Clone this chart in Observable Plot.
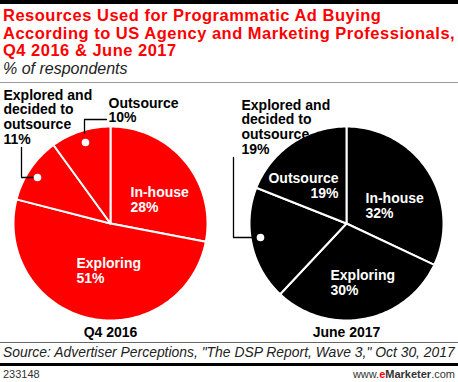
<!DOCTYPE html>
<html>
<head>
<meta charset="utf-8">
<script src="https://cdn.jsdelivr.net/npm/d3@7"></script>
<script src="https://cdn.jsdelivr.net/npm/@observablehq/plot@0.6"></script>
<style>
  html, body { margin: 0; padding: 0; background: #fff; }
  #wrap { position: relative; width: 458px; height: 382px; overflow: hidden; font-family: "Liberation Sans", Arial, sans-serif; }
  .abs { position: absolute; white-space: nowrap; }
  #topbar { left: 0; top: 0; width: 458px; height: 4px; background: #000; }
  .tl { left: 3px; color: #ff0000; font-weight: bold; font-size: 16.5px; line-height: 17px; letter-spacing: 0.5px; }
  #subtitle { left: 3px; top: 60px; font-style: italic; font-size: 16px; color: #222; }
  #rule1 { left: 0; top: 82px; width: 458px; height: 1px; background: #999; }
  #chart { left: 0; top: 84px; }
  #rule2 { left: 0; top: 342px; width: 458px; height: 1px; background: #666; }
  #source { left: 3px; top: 344px; font-style: italic; font-size: 13.9px; color: #222; }
  #rule3 { left: 0; top: 363px; width: 458px; height: 3px; background: #000; }
  #id { left: 3px; top: 368px; font-size: 11px; color: #333; }
  #brand { right: 3px; top: 368px; font-size: 11px; color: #333; }
  #brand b.e { color: #ff0000; }
</style>
</head>
<body>
<div id="wrap">
  <div class="abs" id="topbar"></div>
  <div class="abs tl" style="top:7px">Resources Used for Programmatic Ad Buying</div>
  <div class="abs tl" style="top:24.5px">According to US Agency and Marketing Professionals,</div>
  <div class="abs tl" style="top:42px">Q4 2016 &amp; June 2017</div>
  <div class="abs" id="subtitle">% of respondents</div>
  <div class="abs" id="rule1"></div>
  <div class="abs" id="chart"></div>
  <div class="abs" id="rule2"></div>
  <div class="abs" id="source">Source: Advertiser Perceptions, "The DSP Report, Wave 3," Oct 30, 2017</div>
  <div class="abs" id="rule3"></div>
  <div class="abs" id="id">233148</div>
  <div class="abs" id="brand">www.<b class="e">e</b><b>Marketer</b>.com</div>
</div>
<script>
// ---- data ----
const periods = ["Q4 2016", "June 2017"];
const categories = ["In-house", "Exploring", "Explored and decided to outsource", "Outsource"];
const q4_2016 = [28, 51, 11, 10];
const june_2017 = [32, 30, 19, 19];
const series = [q4_2016, june_2017];
const pieColors = ["#ff0000", "#000000"];

// ---- layout (pixels) ----
const W = 458, H = 258;
const R = 97;                 // pie radius px
const CX0 = 110, CY = 139;    // first pie center in svg px
const GAP = 236;              // distance between pie centers px
const gapU = GAP / R;         // in radius units

// build slice polygons from values
const slices = [];
series.forEach((vals, p) => {
  const total = d3.sum(vals);
  let acc = 0;
  vals.forEach((v, i) => {
    const a0 = acc / total * 2 * Math.PI;
    acc += v;
    const a1 = acc / total * 2 * Math.PI;
    const key = periods[p] + "|" + categories[i];
    slices.push({key, period: periods[p], x: p * gapU, y: 0});
    const n = Math.max(2, Math.ceil((a1 - a0) / (Math.PI / 180)));
    for (let k = 0; k <= n; k++) {
      const a = a0 + (a1 - a0) * k / n;
      slices.push({key, period: periods[p], x: p * gapU + Math.sin(a), y: Math.cos(a)});
    }
  });
});

// px -> data units helpers (relative to pie center)
const ux = (p, px) => p * gapU + (px - (CX0 + p * GAP)) / R;
const uy = (py) => -(py - 84 - CY) / R;

function lbl(p, cat, vals, x, baseline, color) {
  const i = categories.indexOf(cat);
  const name = cat === "Explored and decided to outsource" ? "Explored and\ndecided to\noutsource" : cat;
  return {text: name + "\n" + vals[i] + "%", x: ux(p, x), y: uy(baseline - 10), color};
}
const inLabels = [
  lbl(0, "In-house", q4_2016, 130, 195, "#fff"),
  lbl(0, "Exploring", q4_2016, 76, 266, "#fff"),
  lbl(1, "In-house", june_2017, 365, 201, "#fff"),
  lbl(1, "Exploring", june_2017, 330, 278, "#fff"),
];
const inLabelsEnd = [
  lbl(1, "Outsource", june_2017, 338, 182, "#fff"),
];
const outLabels = [
  lbl(0, "Explored and decided to outsource", q4_2016, 3, 99, "#000"),
  lbl(0, "Outsource", q4_2016, 108, 107, "#000"),
  lbl(1, "Explored and decided to outsource", june_2017, 241, 109, "#000"),
];

// leader lines (px) and callout dots
const leaders = [
  {id: "a", pts: [[106, 119], [84, 119], [84, 133]], dot: [85, 142], p: 0},
  {id: "b", pts: [[21, 147], [21, 177], [33, 177]], dot: [37, 177], p: 0},
  {id: "c", pts: [[233, 157], [233, 237], [256, 237]], dot: [260, 237], p: 1},
];
const leaderPts = leaders.flatMap(l => l.pts.map(([x, y]) => ({id: l.id, x: ux(l.p, x), y: uy(y)})));
const dots = leaders.map(l => ({x: ux(l.p, l.dot[0]), y: uy(l.dot[1])}));

const periodLabels = periods.map((t, p) => ({text: t, x: p * gapU, y: uy(336)}));

const chart = Plot.plot({
  width: W, height: H,
  margin: 0,
  x: {domain: [-1, 1], range: [CX0 - R, CX0 + R], axis: null},
  y: {domain: [-1, 1], range: [CY + R, CY - R], axis: null},
  color: {domain: periods, range: pieColors},
  style: {fontFamily: "Liberation Sans, Arial, sans-serif", background: "transparent"},
  marks: [
    Plot.line(slices, {x: "x", y: "y", z: "key", fill: "period", stroke: "#fff", strokeWidth: 2, curve: "linear-closed", strokeLinejoin: "round"}),
    Plot.line(leaderPts, {x: "x", y: "y", z: "id", stroke: "#000", strokeWidth: 1.3}),
    Plot.dot(dots, {x: "x", y: "y", r: 3.8, fill: "#fff", stroke: "none"}),
    Plot.text(inLabels, {x: "x", y: "y", text: "text", fill: "color", textAnchor: "start", lineAnchor: "top", fontSize: 14, fontWeight: "bold", lineHeight: 1.12}),
    Plot.text(inLabelsEnd, {x: "x", y: "y", text: "text", fill: "color", textAnchor: "end", lineAnchor: "top", fontSize: 14, fontWeight: "bold", lineHeight: 1.08}),
    Plot.text(outLabels, {x: "x", y: "y", text: "text", fill: "color", textAnchor: "start", lineAnchor: "top", fontSize: 14, fontWeight: "bold", lineHeight: 1.04}),
    Plot.text(periodLabels, {x: "x", y: "y", text: "text", fill: "#000", textAnchor: "middle", lineAnchor: "bottom", fontSize: 14, fontWeight: "bold"})
  ]
});
document.getElementById("chart").appendChild(chart);
</script>
</body>
</html>
